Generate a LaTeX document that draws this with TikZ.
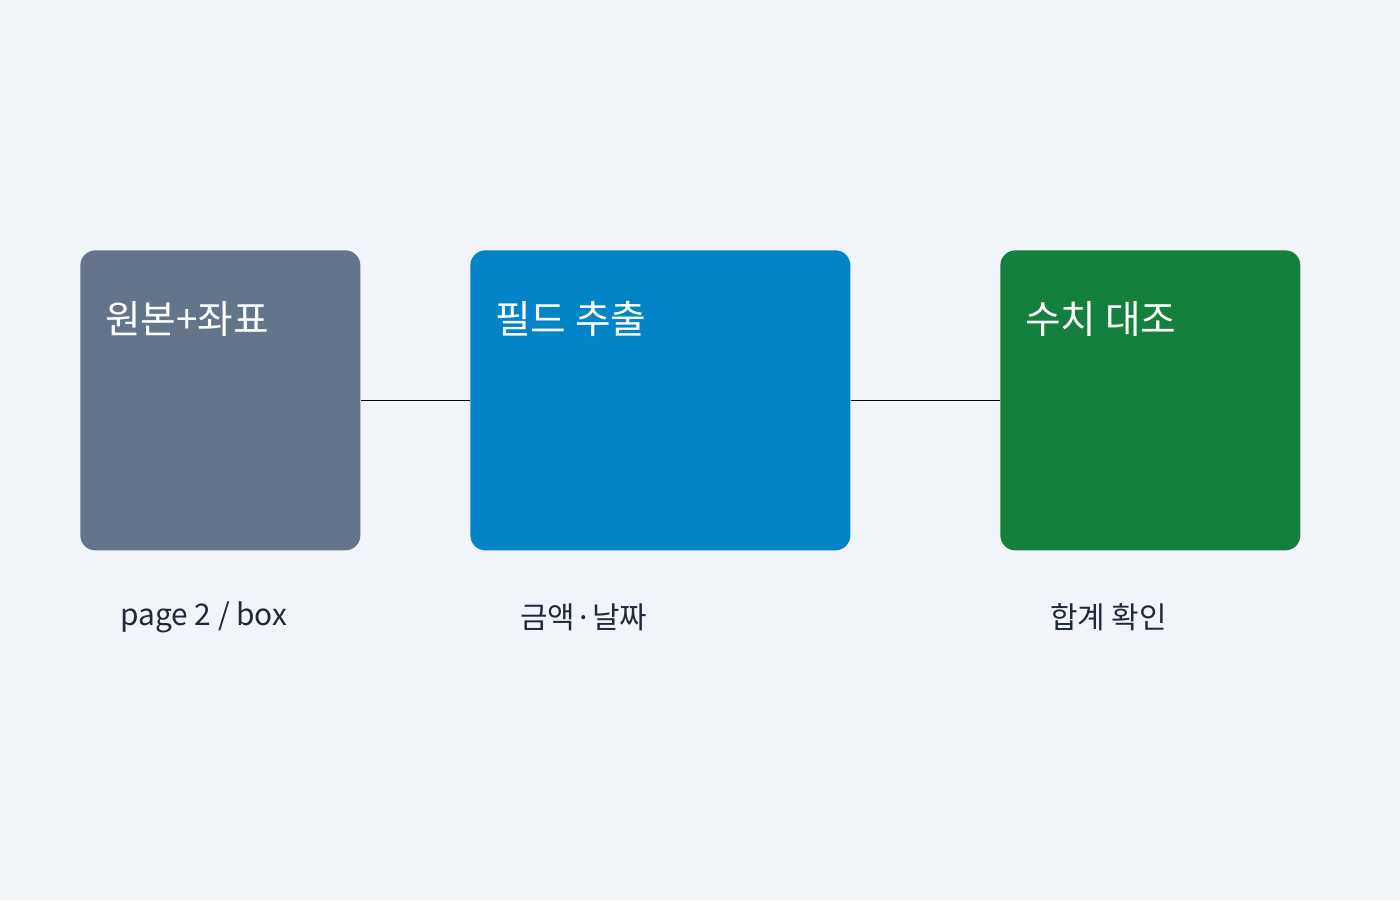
\documentclass[tikz,border=0pt]{standalone}
\usepackage{fontspec}
\setmainfont{Noto Sans CJK KR}
\definecolor{bg}{HTML}{F1F5F9}
\definecolor{srcgray}{HTML}{64748B}
\definecolor{extblue}{HTML}{0284C7}
\definecolor{chkgreen}{HTML}{15803D}
\definecolor{labeltext}{HTML}{1E293B}

\begin{document}
\begin{tikzpicture}[x = 0.02cm, y = -0.02cm,
	stage/.style = {draw = none, rounded corners = 15*0.02cm, anchor = north west, inner sep = 0},
	stagetitle/.style = {anchor = west, text = white, font = \fontsize{22}{26}\selectfont, inner sep = 0},
	caption/.style = {anchor = west, text = labeltext, font = \fontsize{17}{20}\selectfont, inner sep = 0}]

	% Background
	
	\fill [bg] (0, 0) rectangle (1400, 900);
	\useasboundingbox (0, 0) rectangle (1400, 900);
	
	% Stages
	
	\node [stage, fill = srcgray, minimum width = 280*0.02cm, minimum height = 300*0.02cm] (src) at (80, 250) {};
	\node [stage, fill = extblue, minimum width = 380*0.02cm, minimum height = 300*0.02cm] (ext) at (470, 250) {};
	\node [stage, fill = chkgreen, minimum width = 300*0.02cm, minimum height = 300*0.02cm] (chk) at (1000, 250) {};
	
	\node [stagetitle] (srctitle) at (105, 319) {원본+좌표};
	\node [stagetitle] (exttitle) at (495, 319) {필드 추출};
	\node [stagetitle] (chktitle) at (1025, 319) {수치 대조};
	
	% Connectors
	
	\draw [thin, black] (src.east) -- (ext.west);
	\draw [thin, black] (ext.east) -- (chk.west);
	
	% Captions
	
	\node [caption] (srccap) at (120, 617) {page 2 / box};
	\node [caption] (extcap) at (520, 617) {금액·날짜};
	\node [caption] (chkcap) at (1050, 617) {합계 확인};

\end{tikzpicture}
\end{document}
